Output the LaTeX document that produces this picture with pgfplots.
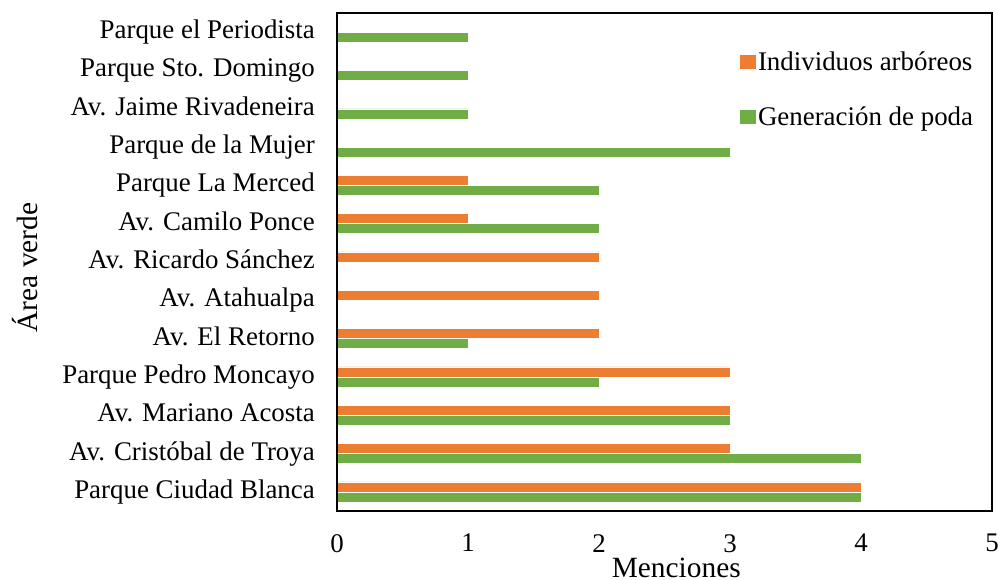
\documentclass[border=0pt]{standalone}
\usepackage{fontspec}
\setmainfont{Liberation Serif}
\usepackage{pgfplots}
\pgfplotsset{compat=1.18}
\definecolor{cOr}{HTML}{ED7D31}
\definecolor{cGr}{HTML}{70AD47}
\begin{document}
\begin{tikzpicture}
\begin{axis}[
  scale only axis, width=655bp, height=498bp,
  xbar, bar width=10bp,
  xmin=0, xmax=5, ymin=-0.5, ymax=12.5,
  xtick={0,...,5}, ytick={0,...,12},
  yticklabels={Parque Ciudad Blanca, Av. Cristóbal de Troya, Av. Mariano Acosta, Parque Pedro Moncayo, Av. El Retorno, Av. Atahualpa, Av. Ricardo Sánchez, Av. Camilo Ponce, Parque La Merced, Parque de la Mujer, Av. Jaime Rivadeneira, Parque Sto. Domingo, Parque el Periodista},
  major tick length=0,
  axis on top,
  axis line style={line width=2bp},
  font=\fontsize{27}{32}\selectfont,
  /pgf/number format/assume math mode=true,
  yticklabel style={inner sep=0pt, anchor=east, xshift=-22bp, text height=18bp, text depth=5bp},
  xticklabel style={inner sep=0pt, anchor=north, yshift=-23bp},
  xlabel={Menciones},
  xlabel style={font=\fontsize{29.5}{34}\selectfont, inner sep=0pt, at={(axis description cs:0.518,0)}, anchor=base, yshift=-66.5bp},
  ylabel={Área verde},
  ylabel style={font=\fontsize{29.5}{34}\selectfont, inner sep=0pt, at={(axis description cs:-0.457,0.489)}, anchor=base, rotate=0},
  legend style={draw=none, fill=none, at={(axis description cs:0.615,0.928)}, anchor=north west, inner sep=0pt, row sep=30bp, font=\fontsize{27}{32}\selectfont,
    nodes={inner sep=2.5bp}},
  legend cell align=left,
]
\addplot[fill=cOr, draw=white, line width=0.5bp, bar shift=5bp,
  legend image code/.code={\fill[cOr] (0bp,-6.5bp) rectangle (15bp,6.5bp);}]
  coordinates {(4,0) (3,1) (3,2) (3,3) (2,4) (2,5) (2,6) (1,7) (1,8) (0,9) (0,10) (0,11) (0,12)};
\addlegendentry{Individuos arbóreos}
\addplot[fill=cGr, draw=white, line width=0.5bp, bar shift=-5bp,
  legend image code/.code={\fill[cGr] (0bp,-6.5bp) rectangle (15bp,6.5bp);}]
  coordinates {(4,0) (4,1) (3,2) (2,3) (1,4) (0,5) (0,6) (2,7) (2,8) (3,9) (1,10) (1,11) (1,12)};
\addlegendentry{Generación de poda}
\end{axis}
\path (current axis.south west) ++(-337bp,-69bp) rectangle ([shift={(10bp,13bp)}]current axis.north east);
\end{tikzpicture}
\end{document}
